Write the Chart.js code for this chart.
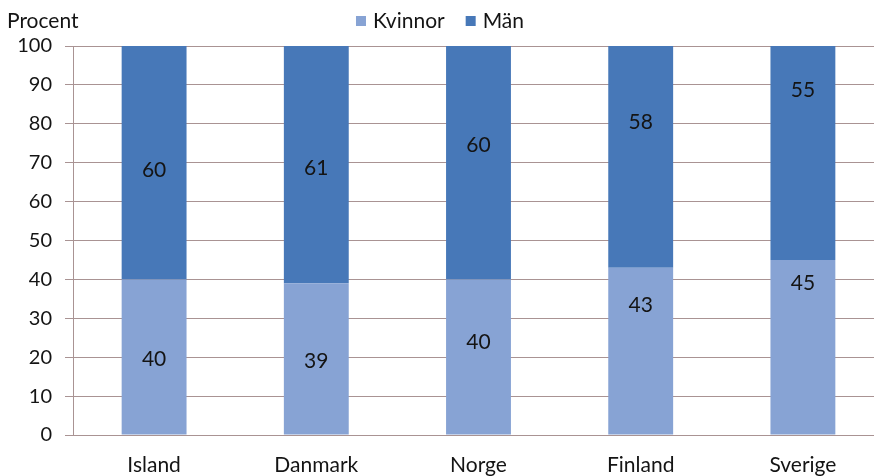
<!DOCTYPE html>
<html>
<head>
<meta charset="utf-8">
<script src="https://cdn.jsdelivr.net/npm/chart.js@4"></script>
<style>
  html, body { margin: 0; padding: 0; background: #fff; overflow: hidden; }
  #wrap { width: 884px; height: 476px; }
</style>
</head>
<body>
<div id="wrap"><canvas id="chart" width="884" height="476"></canvas></div>
<script>
// Données
const countries = ['Island', 'Danmark', 'Norge', 'Finland', 'Sverige'];
const kvinnor = [40, 39, 40, 43, 45];
const man = [60, 61, 60, 58, 55];
const yTicks = [0, 10, 20, 30, 40, 50, 60, 70, 80, 90, 100];

// position des étiquettes dans chaque segment (0 = bas, 1 = haut)
const kvinnorLabelAt = [0.49, 0.49, 0.60, 0.78, 0.87];
const manLabelAt = [0.47, 0.49, 0.58, 0.66, 0.80];

const FONT = 'Lato, "Open Sans", sans-serif';
const GRID = '#a99393';
const TEXT = '#141414';

// Etiquettes dans les segments
const segmentLabels = {
    id: 'segmentLabels',
    afterDatasetsDraw(chart) {
        const ctx = chart.ctx;
        const area = chart.chartArea;
        ctx.save();
        ctx.font = '21px ' + FONT;
        ctx.fillStyle = TEXT;
        ctx.textAlign = 'center';
        ctx.textBaseline = 'middle';
        chart.data.datasets.forEach((ds, i) => {
            chart.getDatasetMeta(i).data.forEach((bar, j) => {
                const p = bar.getProps(['x', 'y', 'base'], true);
                const top = Math.max(p.y, area.top);
                const y = p.base + (top - p.base) * ds.labelAt[j];
                ctx.fillText(ds.data[j], p.x, y + 1);
            });
        });
        ctx.restore();
    }
};

// "Procent" + légende en haut
const header = {
    id: 'header',
    afterDraw(chart) {
        const ctx = chart.ctx;
        ctx.save();
        ctx.font = '21px ' + FONT;
        ctx.fillStyle = TEXT;
        ctx.textAlign = 'left';
        ctx.textBaseline = 'middle';
        ctx.fillText('Procent', 7, 21);

        // légende
        const box = 10, gap = 7, spacing = 21;
        const items = chart.data.datasets.map(ds => ({
            text: ds.label, color: ds.backgroundColor, w: ctx.measureText(ds.label).width
        }));
        const total = items.reduce((s, it) => s + box + gap + it.w, 0) + spacing * (items.length - 1);
        let x = 440 - total / 2;
        items.forEach(it => {
            ctx.fillStyle = it.color;
            ctx.fillRect(x, 16, box, box);
            ctx.fillStyle = TEXT;
            ctx.fillText(it.text, x + box + gap, 21);
            x += box + gap + it.w + spacing;
        });
        ctx.restore();
    }
};

new Chart(document.getElementById('chart'), {
    type: 'bar',
    data: {
        labels: countries,
        datasets: [
            { label: 'Kvinnor', data: kvinnor, labelAt: kvinnorLabelAt, backgroundColor: '#87a3d4' },
            { label: 'Män', data: man, labelAt: manLabelAt, backgroundColor: '#4778b8' }
        ]
    },
    options: {
        responsive: false,
        animation: false,
        layout: { padding: { top: 46, left: 0, right: 0, bottom: 0 } },
        datasets: { bar: { categoryPercentage: 1, barPercentage: 0.4 } },
        plugins: {
            legend: { display: false },
            tooltip: { enabled: false }
        },
        scales: {
            x: {
                stacked: true,
                afterFit(scale) { scale.height = 41; },
                grid: { display: false },
                border: { color: GRID },
                ticks: { font: { family: FONT, size: 21 }, color: TEXT, padding: 10 }
            },
            y: {
                stacked: true,
                min: 0,
                max: 100,
                afterFit(scale) { scale.width = 73; },
                afterBuildTicks(scale) { scale.ticks = yTicks.map(v => ({ value: v })); },
                grid: { color: GRID, tickLength: 8 },
                border: { color: GRID },
                ticks: { font: { family: FONT, size: 20 }, color: TEXT, padding: 13 }
            }
        }
    },
    plugins: [segmentLabels, header]
});
</script>
</body>
</html>
